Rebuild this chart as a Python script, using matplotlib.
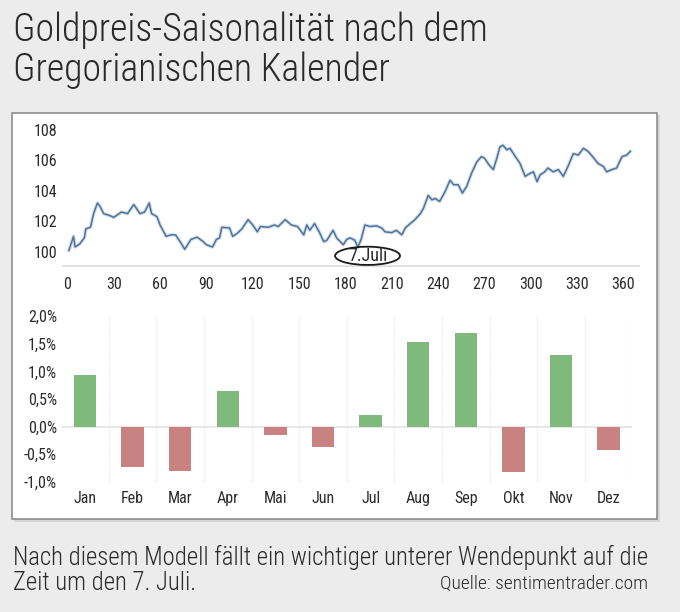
import numpy as np
import matplotlib
matplotlib.use('Agg')
import matplotlib.pyplot as plt
from matplotlib import font_manager
from matplotlib.patches import Ellipse, Rectangle

# schrift (schmale grotesk wenn vorhanden)
names = {f.name for f in font_manager.fontManager.ttflist}
narrow = next((n for n in ['Liberation Sans Narrow', 'DejaVu Sans Condensed',
                           'Roboto Condensed'] if n in names), 'Liberation Sans')
plt.rcParams['font.family'] = [narrow, 'DejaVu Sans']

# daten: saisonaler goldpreis (index) nach kalendertag
tage = [1, 4, 5, 8, 11, 12, 15, 17, 19.5, 21, 23.5, 28, 30, 35, 39, 43, 47, 50, 53,
        54.5, 58, 60, 64, 67, 70, 73, 76, 80, 84, 88, 90, 94, 96.5, 98.5, 100, 105,
        107, 110, 113, 117, 120, 123, 125, 130, 134, 136.5, 141, 145, 149, 153, 155,
        157, 160, 163, 166, 168, 172, 174.3, 178.6, 180.8, 183, 186, 188, 190, 192.6,
        196, 200, 203.5, 205.6, 210, 213, 216.5, 218.7, 222, 225, 228.5, 230.5, 233.6,
        236, 238, 241, 244.5, 247.7, 250, 253, 255.7, 258.5, 261.6, 265, 268, 270,
        273, 275.7, 278, 280, 282, 284.4, 286.5, 290, 293, 296.3, 299.5, 301.7, 304,
        306, 309, 311, 314.5, 317.8, 321, 324, 327.5, 330.7, 334, 337, 340, 343.5,
        347, 349, 352.5, 355.5, 359, 362, 364.4]
index = [100.07, 101.0, 100.3, 100.5, 100.9, 101.5, 101.6, 102.5, 103.2, 103.0, 102.5,
         102.35, 102.25, 102.6, 102.5, 103.1, 102.5, 102.6, 103.2, 102.5, 102.3, 101.75,
         101.0, 101.1, 101.1, 100.65, 100.15, 100.8, 100.95, 100.65, 100.45, 100.3, 100.8,
         100.9, 101.6, 101.55, 101.0, 101.2, 101.5, 102.1, 101.75, 101.3, 101.65, 101.6,
         101.75, 101.65, 102.1, 101.75, 101.65, 101.1, 101.75, 101.4, 101.85, 101.3,
         100.65, 100.75, 101.4, 100.9, 100.45, 100.8, 100.9, 100.75, 100.3, 100.75,
         101.75, 101.65, 101.7, 101.55, 101.3, 101.25, 101.4, 101.1, 101.55, 101.85,
         102.1, 102.5, 102.85, 103.7, 103.4, 103.5, 103.3, 103.95, 104.7, 104.4, 104.4,
         103.85, 104.3, 105.15, 105.9, 106.25, 106.15, 105.7, 105.4, 106.15, 106.9,
         107.0, 106.7, 106.8, 106.25, 105.8, 104.95, 105.15, 105.25, 104.6, 105.05,
         105.25, 105.5, 105.25, 105.4, 104.95, 105.6, 106.45, 106.35, 106.8, 106.6,
         106.25, 105.8, 105.6, 105.25, 105.4, 105.5, 106.25, 106.35, 106.6]

# daten: durchschnittliche monatsrendite
monate = ['Jan', 'Feb', 'Mar', 'Apr', 'Mai', 'Jun', 'Jul', 'Aug', 'Sep', 'Okt', 'Nov', 'Dez']
rendite = [0.93, -0.73, -0.81, 0.64, -0.16, -0.37, 0.21, 1.53, 1.70, -0.82, 1.30, -0.43]

titel = ['Goldpreis-Saisonalität nach dem', 'Gregorianischen Kalender']
text = ['Nach diesem Modell fällt ein wichtiger unterer Wendepunkt auf die',
        'Zeit um den 7. Juli.']
quelle = 'Quelle: sentimentrader.com'

W, H = 680, 612
fig = plt.figure(figsize=(W/100, H/100), dpi=100)
fig.patch.set_facecolor('#ececec')

# weisses panel mit rahmen und schatten
fig.patches.append(Rectangle((14/W, 1-522/H), 646/W, 407/H, transform=fig.transFigure,
                             facecolor='#d6d6d6', edgecolor='none', zorder=0))
fig.patches.append(Rectangle((12/W, 1-519/H), 645/W, 406/H, transform=fig.transFigure,
                             facecolor='white', edgecolor='#858585', linewidth=1.1, zorder=0))

farbe_txt = '#2b2b2b'

# ---------------- oben: linie
ax1 = fig.add_axes([62.7/W, 1-266/H, (639-62.7)/W, (266-125.5)/H])
ax1.set_zorder(3)
ax1.patch.set_alpha(0)
ax1.plot(tage, index, color='#d3deea', linewidth=2.6, solid_joinstyle='round')
ax1.plot(tage, index, color='#4f7399', linewidth=1.1, solid_joinstyle='round')
ax1.set_xlim(-3, 370)
ax1.set_ylim(99.05, 108.3)
ax1.set_yticks([100, 102, 104, 106, 108])
ax1.set_xticks(range(0, 361, 30))
for s in ['top', 'right', 'left']:
    ax1.spines[s].set_visible(False)
ax1.spines['bottom'].set_color('#e0e0e0')
ax1.spines['bottom'].set_linewidth(1.5)
ax1.tick_params(length=0, labelsize=11.5, labelcolor=farbe_txt)
ax1.tick_params(axis='y', pad=4)
ax1.tick_params(axis='x', pad=8)

ax1.add_patch(Ellipse((194.3, 99.72), 42, 1.2, facecolor='none', edgecolor='#1a1a1a',
                      linewidth=1.3, zorder=5, clip_on=False))
ax1.text(194.3, 99.74, '7.Juli', ha='center', va='center', fontsize=13,
         color=farbe_txt, zorder=6)

# ---------------- unten: balken
ax2 = fig.add_axes([61.2/W, 1-483/H, (632.4-61.2)/W, (483-315)/H])
ax2.set_zorder(3)
ax2.patch.set_alpha(0)
x = np.arange(len(monate))
farben = ['#7fb97c' if r >= 0 else '#c98282' for r in rendite]
ax2.bar(x, rendite, width=0.47, color=farben, zorder=3)
ax2.axhline(0, color='#e4e4e4', linewidth=1.2, zorder=1)
for b in np.arange(0.5, 12, 1):
    ax2.axvline(b, color='#e6e6e6', linewidth=0.9, linestyle=(0, (1, 1)), zorder=1)
ax2.set_xlim(-0.5, 11.5)
ax2.set_ylim(-1.02, 2.02)
ax2.set_yticks([-1.0, -0.5, 0.0, 0.5, 1.0, 1.5, 2.0])
ax2.set_yticklabels([f'{v:.1f}%'.replace('.', ',') for v in ax2.get_yticks()])
ax2.set_xticks(x)
ax2.set_xticklabels(monate)
for s in ax2.spines.values():
    s.set_visible(False)
ax2.tick_params(length=0, labelsize=11.5, labelcolor=farbe_txt)
ax2.tick_params(axis='y', pad=3)
ax2.tick_params(axis='x', pad=6)

# ---------------- texte
fig.text(13/W, 1-30/H, titel[0], ha='left', va='center', fontsize=27.3,
         fontweight='light', color='#2a2a2a')
fig.text(13/W, 1-70/H, titel[1], ha='left', va='center', fontsize=27.3,
         fontweight='light', color='#2a2a2a')
fig.text(13/W, 1-557/H, text[0], ha='left', va='center', fontsize=17.8,
         fontweight='light', color='#2a2a2a')
fig.text(13/W, 1-583/H, text[1], ha='left', va='center', fontsize=17.8,
         fontweight='light', color='#2a2a2a')
fig.text(648/W, 1-584/H, quelle, ha='right', va='center', fontsize=14,
         fontweight='light', color='#2a2a2a')

fig.savefig('out.png', dpi=100, facecolor=fig.get_facecolor())
